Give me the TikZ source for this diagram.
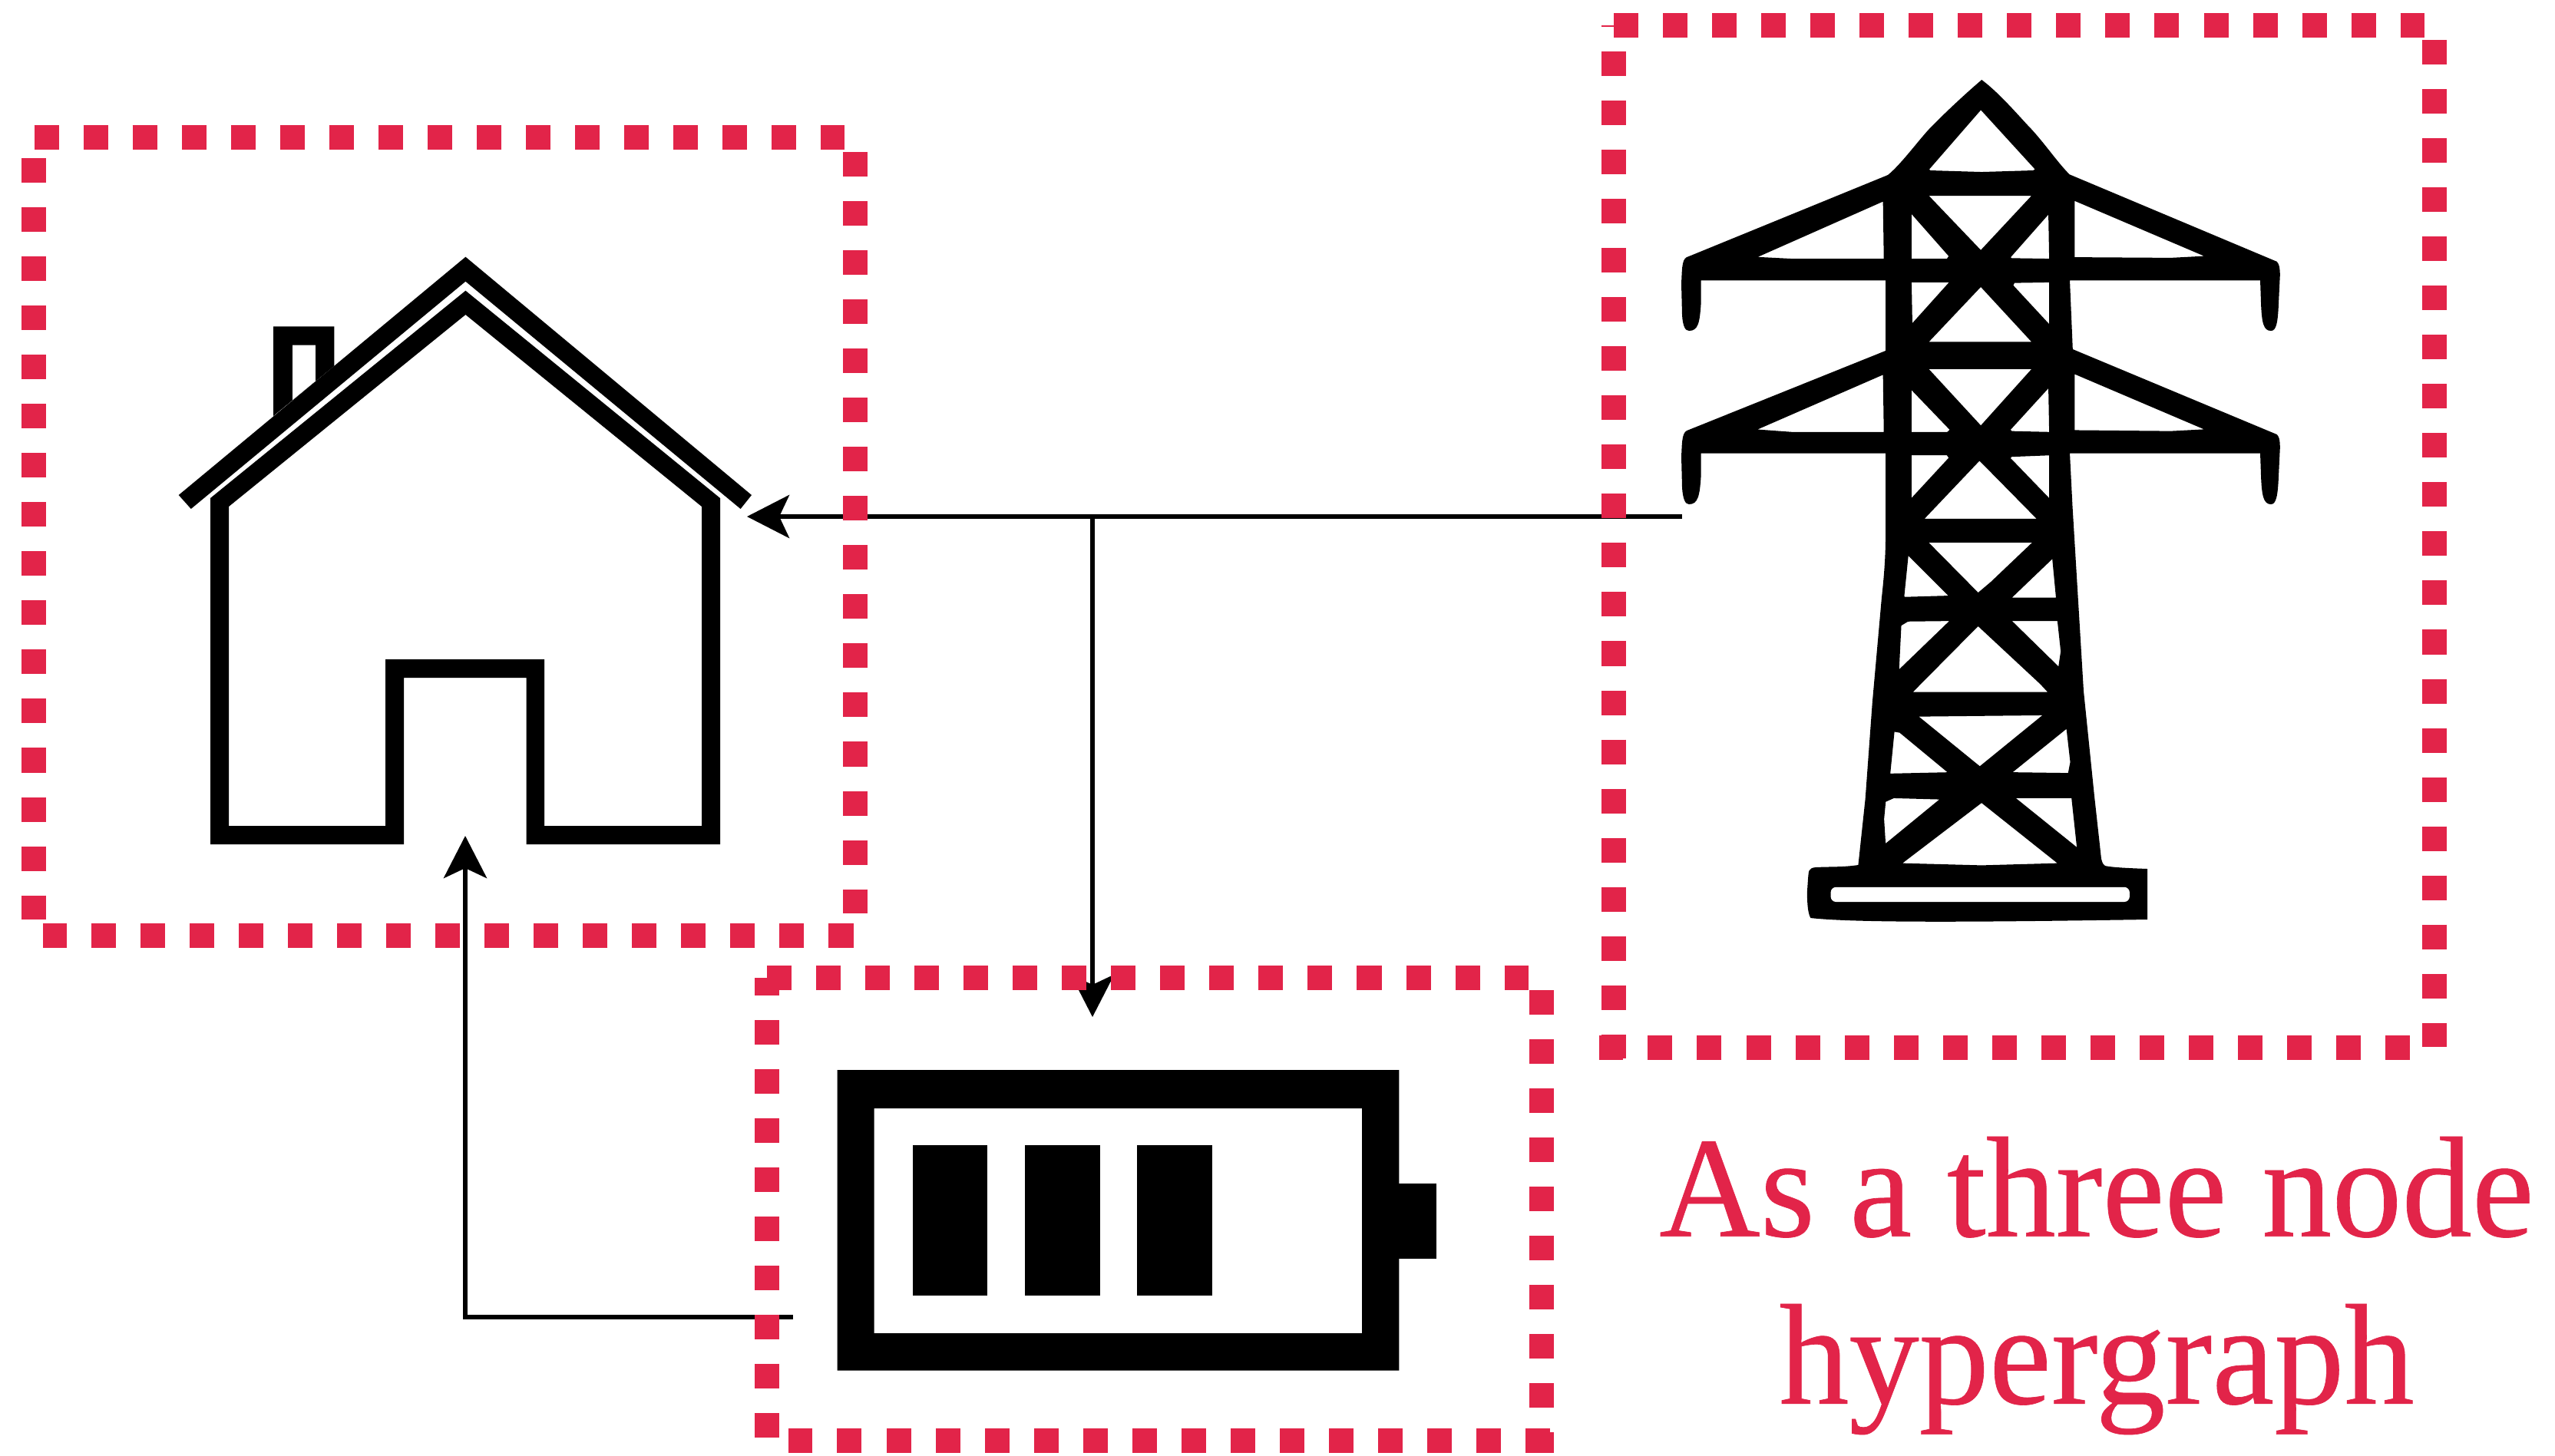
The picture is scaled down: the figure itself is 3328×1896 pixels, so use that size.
\documentclass[tikz,border=0pt]{standalone}
\usepackage{fontspec}
\setmainfont{Liberation Serif}[FakeStretch=0.975,FakeBold=0.35]
\usetikzlibrary{arrows.meta}
\definecolor{hyperred}{RGB}{226,36,73}
\tikzset{
  dashside/.style={draw=hyperred,line width=0.32cm,dash pattern=on 0.32cm off 0.32cm},
  conn/.style={draw=black,line width=0.06cm},
  arrowconn/.style={conn,-{Stealth[length=0.55cm,width=0.56cm,inset=0.13cm]}},
  icon/.style={fill=black,draw=none,even odd rule},
  hole/.style={fill=white,draw=black,line width=0.05cm},
  slot/.style={fill=white,draw=none,rounded corners=0.07cm},
  zoomA/.style={shift={(2100,60)},xscale=0.5869,yscale=0.4082},
  zoomB/.style={shift={(2200,660)},xscale=0.4591,yscale=0.3700}
}
\begin{document}
\begin{tikzpicture}[x=0.01cm,y=-0.01cm]
\useasboundingbox (0,0) rectangle (3328,1896);
\fill[white] (0,0) rectangle (3328,1896);

% named ends of the connectors
\coordinate (towerport) at (2191,673);
\coordinate (homeport) at (973,673);
\coordinate (junction) at (1423,673);
\coordinate (batteryport) at (1423,1325);
\coordinate (batteryout) at (1033,1716);
\coordinate (bend) at (606,1716);
\coordinate (homedoor) at (606,1089);

% house
\path[icon] (232.7,645) -- (606.4,334.7) -- (979,645) -- (964.6,663) -- (606.4,366.7) -- (248.8,663) -- cycle;
\path[icon] (356,542) -- (356,425.3) -- (435.4,425.3) -- (435.4,476.7) -- cycle
  (380.8,449.7) -- (411.2,449.7) -- (411.2,496.7) -- (380.8,521.7) -- cycle;
\path[icon] (274,1100) -- (526,1100) -- (526,883) -- (685.6,883) -- (685.6,1100) -- (938,1100) -- (938,649) -- (606.4,378.7) -- (274,649) -- cycle
  (298,660) -- (606.4,410) -- (914,660) -- (914,1076) -- (709,1076) -- (709,859) -- (502,859) -- (502,1076) -- (298,1076) -- cycle;

% battery
\path[icon] (1090.5,1394) rectangle (1822.4,1785.7) (1138.7,1444) rectangle (1774,1737);
\path[icon] (1822.4,1541.7) rectangle (1871,1640);
\path[icon] (1188.7,1492) rectangle (1285.7,1688);
\path[icon] (1335,1492) rectangle (1432.6,1688);
\path[icon] (1481,1492) rectangle (1578.5,1688);

% pylon silhouette
\path[icon] (2581.2,104)
  .. controls (2560,122) and (2530,150) .. (2511,170)
  .. controls (2495,188) and (2475,215) .. (2459,228) -- (2199.8,334)
  .. controls (2191,336) and (2191,345) .. (2190,370) -- (2191,411)
  .. controls (2192,425) and (2195,431) .. (2200,431)
  .. controls (2212,431) and (2214,420) .. (2215.6,395) -- (2215.6,365.3) -- (2456,365.3) -- (2456,457) -- (2199.8,560)
  .. controls (2191,562) and (2191,572) .. (2190,595) -- (2191,635.5)
  .. controls (2192,650) and (2195,657) .. (2200,657)
  .. controls (2212,657) and (2214,645) .. (2215.6,620) -- (2215.6,590.6) -- (2456,590.6) -- (2456,700)
  .. controls (2456,730) and (2453,760) .. (2451,778)
  -- (2438.8,915) -- (2429.6,1041) -- (2420.4,1127)
  .. controls (2400,1130) and (2385,1129) .. (2365,1130)
  .. controls (2355,1131) and (2356,1135) .. (2355,1145)
  -- (2353.8,1163) .. controls (2354,1180) and (2355,1190) .. (2358.4,1196)
  .. controls (2420,1203) and (2600,1201) .. (2797,1198) -- (2797,1132)
  .. controls (2770,1131) and (2750,1130) .. (2741.8,1128)
  .. controls (2738,1125) and (2738,1122) .. (2737,1119)
  -- (2728,1037.4) -- (2714,900.5) -- (2699.5,660) -- (2696,590.6) -- (2944,590.6) -- (2945,620)
  .. controls (2946,645) and (2948,657) .. (2958,657)
  .. controls (2965,657) and (2967,645) .. (2968,620) -- (2969.7,585)
  .. controls (2970,572) and (2968,568) .. (2965.6,566) -- (2699.8,455) -- (2696,365.3) -- (2944,365.3) -- (2945,395)
  .. controls (2946,420) and (2948,431) .. (2958,431)
  .. controls (2965,431) and (2967,420) .. (2968,395) -- (2969.7,360)
  .. controls (2970,348) and (2968,343) .. (2965.6,340.8) -- (2695.7,227.3)
  .. controls (2680,212) and (2660,182) .. (2640,162)
  .. controls (2620,140) and (2600,118) .. (2581.2,104) -- cycle;

% pylon openings, upper part
\begin{scope}[zoomA]
\path[hole] (818,195) -- (945,395) -- (935,403) -- (820,408) -- (705,403) -- (697,395) -- cycle;
\path[hole] (693,472) -- (940,472) -- (818,660) -- cycle;
\path[hole] (605,487) -- (607,685) -- (400,685) -- (305,678) -- cycle;
\path[hole] (1022,485) -- (1022,680) -- (1240,682) -- (1332,675) -- cycle;
\path[hole] (660,520) -- (752,670) -- (745,685) -- (660,685) -- cycle;
\path[hole] (972,522) -- (974,685) -- (885,683) -- (878,675) -- cycle;
\path[hole] (660,748) -- (757,748) -- (662,900) -- cycle;
\path[hole] (974,748) -- (890,750) -- (885,765) -- (974,903) -- cycle;
\path[hole] (818,760) -- (940,950) -- (693,950) -- cycle;
\path[hole] (693,1025) -- (940,1025) -- (818,1220) -- cycle;
\path[hole] (605,1040) -- (607,1238) -- (400,1238) -- (305,1228) -- cycle;
\path[hole] (1022,1038) -- (1022,1232) -- (1240,1235) -- (1332,1228) -- cycle;
\path[hole] (660,1083) -- (755,1225) -- (745,1238) -- (660,1238) -- cycle;
\path[hole] (972,1077) -- (974,1238) -- (885,1235) -- (878,1225) -- cycle;
\path[hole] (660,1300) -- (745,1300) -- (752,1315) -- (660,1458) -- cycle;
\path[hole] (974,1300) -- (885,1305) -- (878,1315) -- (974,1458) -- cycle;
\path[hole] (815,1315) -- (952,1515) -- (683,1515) -- cycle;
\end{scope}

% pylon openings, lower part
\begin{scope}[zoomB]
\path[hole] (667,120) -- (987,120) -- (860,270) -- (820,312) -- cycle;
\path[hole] (618,158) -- (748,320) -- (610,325) -- (605,318) -- cycle;
\path[hole] (1035,170) -- (1047,327) -- (903,327) -- cycle;
\path[hole] (752,396) -- (620,398) -- (597,415) -- (590,590) -- cycle;
\path[hole] (903,396) -- (1050,396) -- (1060,510) -- (1052,577) -- cycle;
\path[hole] (820,412) -- (1000,620) -- (1030,660) -- (622,660) -- cycle;
\path[hole] (637,733) -- (1018,728) -- (825,923) -- cycle;
\path[hole] (578,785) -- (600,790) -- (748,942) -- (565,947) -- cycle;
\path[hole] (1075,770) -- (1087,900) -- (1080,945) -- (903,942) -- cycle;
\path[hole] (725,1025) -- (580,1020) -- (553,1035) -- (548,1100) -- (553,1200) -- cycle;
\path[hole] (912,1020) -- (1090,1020) -- (1107,1215) -- cycle;
\path[hole] (830,1035) -- (1060,1262) -- (830,1270) -- (590,1262) -- cycle;
\path[slot] (402,1340) rectangle (1250,1392);
\end{scope}

% connectors
\draw[arrowconn] (towerport) -- (homeport);
\draw[arrowconn] (junction) -- (batteryport);
\draw[arrowconn] (batteryout) -- (bend) -- (homedoor);

% dashed frame: house
\draw[dashside] (44.5,179) -- (1100,179);
\draw[dashside] (1113.6,198) -- (1113.6,1190);
\draw[dashside] (1111.5,1219) -- (55.5,1219);
\draw[dashside] (44,206) -- (44,1198);

% dashed frame: pylon
\draw[dashside] (2102,33) -- (3158,33);
\draw[dashside] (3171,52) -- (3171,1364);
\draw[dashside] (3139,1365) -- (2083,1365);
\draw[dashside] (2102,67) -- (2102,1379);
\fill[hyperred] (2085.5,33) rectangle (2102,35);

% dashed frame: battery
\draw[dashside] (999,1274) -- (1991,1274);
\draw[dashside] (2008,1290) -- (2008,1893);
\draw[dashside] (2019,1877) -- (1027,1877);
\draw[draw=hyperred,line width=0.32cm,dash pattern=on 0.32cm off 0.32cm,dash phase=0.09cm] (999,1274) -- (999,1873);

% caption
\node[text=hyperred,align=center,inner sep=0pt,font=\fontsize{53.2pt}{62pt}\selectfont] (caption) at (2731,1675) {As a three node\\hypergraph};
\end{tikzpicture}
\end{document}
